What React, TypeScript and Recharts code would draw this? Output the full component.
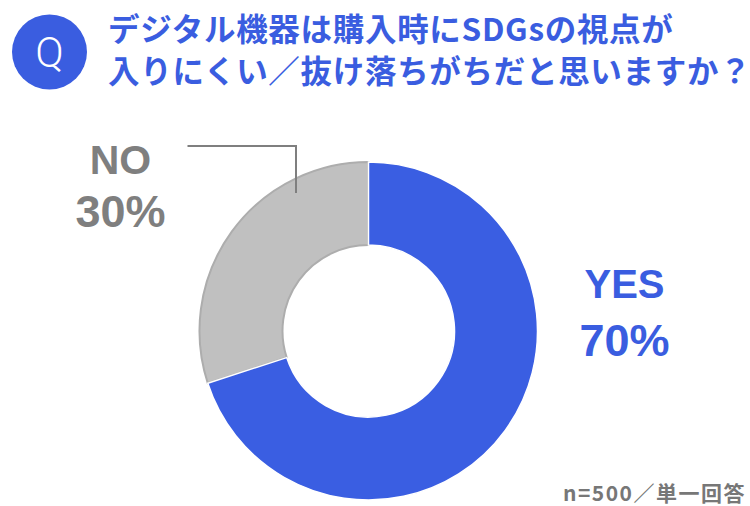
import React from "react";
import { PieChart, Pie, Cell } from "recharts";

const answers = ["NO", "YES"];
const shares = [30, 70];
const sliceColors = ["#c0c0c0", "#3a5ee2"];
const sliceStrokes = ["#adadad", "#ffffff"];
const titleLines = ["デジタル機器は購入時にSDGsの視点が", "入りにくい／抜け落ちがちだと思いますか？"];
const footnote = "n=500／単一回答";

const data = answers.map((name, i) => ({ name, value: shares[i] }));

const BLUE = "#3a5de0";
const GRAY = "#7f7f7f";
const LABEL_FONT = "'Liberation Sans', Arial, sans-serif";

function renderLabel(props: any) {
  const { cx, cy, outerRadius, index, name, value } = props;
  if (index === 1) {
    // YES, right of the ring
    const x = cx + outerRadius + 87;
    return (
      <g>
        <text x={x} y={cy - 33} textAnchor="middle" fill={BLUE} fontFamily={LABEL_FONT} fontWeight={700} fontSize={40}>
          {name}
        </text>
        <text x={x} y={cy + 25} textAnchor="middle" fill={BLUE} fontFamily={LABEL_FONT} fontWeight={700} fontSize={45}>
          {value}%
        </text>
      </g>
    );
  }
  // NO, upper left with a leader line
  const x = cx - 248;
  const lx = cx - 72.5;
  const ly = cy - 185;
  return (
    <g>
      <polyline
        points={`${cx - 181},${ly} ${lx},${ly} ${lx},${cy - 138}`}
        fill="none"
        stroke={GRAY}
        strokeWidth={2}
      />
      <text x={x} y={cy - 157} textAnchor="middle" fill={GRAY} fontFamily={LABEL_FONT} fontWeight={700} fontSize={41}>
        {name}
      </text>
      <text x={x} y={cy - 104} textAnchor="middle" fill={GRAY} fontFamily={LABEL_FONT} fontWeight={700} fontSize={45}>
        {value}%
      </text>
    </g>
  );
}

export default function App() {
  return (
    <div style={{ position: "fixed", left: 0, top: 0, width: 750, height: 506, background: "#fff" }}>
      <PieChart
        width={750}
        height={506}
        margin={{ top: 0, right: 0, bottom: 0, left: 0 }}
        style={{ position: "absolute", left: 0, top: 0 }}
      >
        <Pie
          data={data}
          dataKey="value"
          nameKey="name"
          cx={368.5}
          cy={331}
          innerRadius={86}
          outerRadius={169}
          startAngle={198}
          endAngle={-162}
          label={renderLabel}
          labelLine={false}
          isAnimationActive={false}
        >
          {data.map((d, i) => (
            <Cell key={d.name} fill={sliceColors[i]} stroke={sliceStrokes[i]} strokeWidth={i === 0 ? 2 : 1.5} />
          ))}
        </Pie>
      </PieChart>
      <svg width={750} height={506} style={{ position: "absolute", left: 0, top: 0, pointerEvents: "none" }}>
        <circle cx={49.5} cy={52} r={37.5} fill={BLUE} />
        <text x={49.5} y={67} textAnchor="middle" fill="#fff" fontFamily="Roboto, sans-serif" fontWeight={300} fontSize={42}>
          Q
        </text>
        {titleLines.map((t, i) => (
          <text
            key={i}
            x={108}
            y={41 + i * 42}
            fill={BLUE}
            fontFamily="'Noto Sans CJK JP', sans-serif"
            fontWeight={700}
            fontSize={31.5}
            letterSpacing={0.7}
          >
            {t}
          </text>
        ))}
        <text
          x={746}
          y={501}
          textAnchor="end"
          fill="#777"
          fontFamily="'Noto Sans CJK JP', sans-serif"
          fontWeight={700}
          fontSize={21}
          letterSpacing={1.5}
        >
          {footnote}
        </text>
      </svg>
    </div>
  );
}
